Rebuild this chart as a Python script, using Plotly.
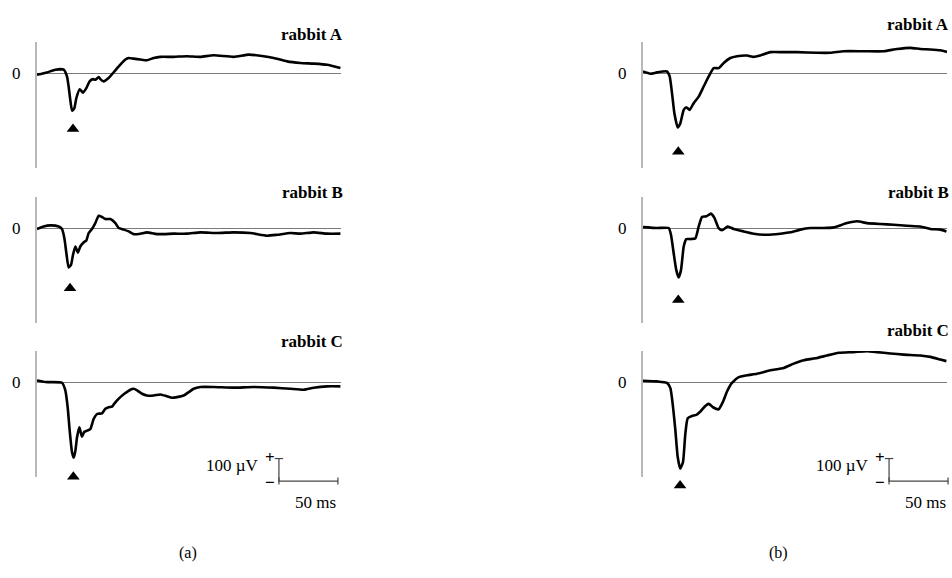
import plotly.graph_objects as go

# ---------------- data (time in ms, amplitude in µV) ----------------
a_A_t = [0, 8.5, 15.5, 22.6, 25.4, 26.8, 28.2, 29.7, 31.6, 33.3, 36.2, 39, 41.8, 44.6, 47.5, 49.4, 52.3, 53.7, 56.5, 60.7,
         66.4, 70.6, 74.9, 77.7, 81.9, 87.6, 93.2, 98.9, 104.5, 115.8, 127.1, 138.4, 149.7, 166.7, 179.4, 192.1, 200.6,
         211.9, 223.2, 234.5, 245.8, 257.1]
a_A_v = [-7, 3, 15, 15, -15, -60, -119, -167, -157, -112, -72, -87, -67, -37, -27, -30, -18, -27, -37, -22,
         12, 37, 60, 67, 64, 60, 57, 67, 72, 72, 75, 72, 79, 72, 82, 75, 67,
         52, 45, 42, 37, 22]

a_B_t = [0, 5.6, 11.3, 18.4, 21.2, 23.2, 24.9, 26.8, 28.8, 30.5, 32.5, 34.7, 36.7, 39.5, 41.8, 43.8, 46.6, 49.4, 52.3, 55.1,
         57.9, 62.2, 66.4, 69.2, 73.5, 77.7, 81.9, 87.6, 93.2, 101.7, 115.8, 127.1, 138.4, 152.6, 166.7, 180.8, 194.9,
         203.4, 214.7, 223.2, 234.5, 245.8, 257.1]
a_B_v = [-4, 7, 12, 7, -4, -45, -112, -175, -164, -119, -82, -109, -82, -64, -55, -22, -4, 22, 55, 49,
         40, 40, 22, 0, -7, -15, -27, -25, -19, -27, -25, -25, -19, -22, -19, -22, -34,
         -30, -22, -25, -19, -25, -25]

a_C_t = [0, 7.1, 21.2, 24, 26, 27.7, 29.7, 31.1, 32.5, 33.9, 35.9, 38.1, 40.1, 42.4, 45.2, 48, 50.9, 55.1, 57.9, 60.7,
         63.6, 66.4, 70.6, 74.9, 79.1, 81.9, 84.8, 89, 93.2, 98.9, 104.5, 110.2, 114.4, 118.7, 124.3, 128.6, 132.8,
         138.4, 149.7, 166.7, 183.6, 200.6, 214.7, 226, 234.5, 245.8, 257.1]
a_C_v = [7, 0, -3, -37, -112, -216, -313, -336, -306, -246, -201, -243, -221, -216, -209, -164, -142, -139, -119, -112,
         -109, -90, -67, -49, -34, -30, -37, -52, -60, -60, -55, -63, -70, -67, -60, -45, -30,
         -22, -22, -25, -22, -25, -30, -34, -25, -19, -19]

b_A_t = [0, 6.2, 11.9, 20.3, 22.6, 24.6, 26.6, 29.4, 31.6, 34.5, 36.7, 39.5, 42.9, 47.2, 51.4, 55.7, 59.9, 64.1, 68.4, 74,
         79.7, 88.1, 93.8, 99.4, 107.9, 119.2, 130.5, 147.5, 158.8, 170.1, 187, 204, 215.3, 226.6, 235, 243.5, 252,
         257.6]
b_A_v = [7, -3, 3, 7, -15, -90, -179, -242, -224, -164, -152, -164, -134, -105, -60, -15, 22, 22, 45, 67,
         75, 78, 72, 78, 93, 93, 93, 90, 90, 97, 97, 97, 107, 112, 107, 105, 101,
         94]

b_B_t = [0, 11.9, 21.8, 23.7, 26, 28.2, 30.2, 32.2, 34.5, 36.7, 40.1, 44.4, 47.2, 50, 53.7, 57.6, 60.5, 64.1, 67, 71.8,
         76.8, 85.3, 93.8, 105.1, 116.4, 124.9, 133.3, 141.8, 153.1, 161.6, 172.9, 181.4, 189.8, 201.1, 212.4, 223.7,
         235, 243.5, 252, 257.1]
b_B_v = [4, 0, 0, -30, -112, -187, -219, -187, -82, -49, -49, -45, 7, 49, 52, 64, 45, 0, -10, 7,
         -4, -15, -25, -30, -25, -19, -7, 0, 0, 3, 22, 30, 22, 18, 15, 10,
         7, -4, -7, -15]

b_C_t = [0, 11.9, 20.3, 23.2, 25.4, 27.4, 29.4, 31.6, 33.9, 35.9, 37.9, 41.5, 45.2, 48.6, 52.8, 55.7, 59.3, 64.1, 67.8, 71.2,
         75.4, 81.1, 88.1, 96.6, 107.9, 119.2, 127.7, 136.2, 147.5, 155.9, 165.8, 178.5, 189.8, 198.3, 209.6, 220.9,
         235, 243.5, 252, 257.1]
b_C_v = [6, 3, -4, -27, -109, -213, -333, -385, -355, -228, -161, -151, -146, -131, -106, -97, -112, -121, -87, -42,
         -4, 22, 30, 37, 52, 63, 82, 97, 107, 118, 130, 133, 137, 133, 127, 122,
         118, 112, 100, 93]

panel_titles = ["rabbit A", "rabbit B", "rabbit C", "rabbit A", "rabbit B", "rabbit C"]
# peak markers (triangles): time (ms) and level (µV)
marker_t = [30.5, 28.0, 30.8, 29.9, 29.9, 31.4]
marker_v = [-249, -267, -421, -350, -320, -460]
# scale bars: 50 ms x 100 µV, start time (ms) and bottom level (µV), for (a) and (b)
scale_t0 = [205, 208.5]
scale_v0 = [-440, -440]
scale_dt = 50
scale_dv = 100
part_labels = ["(a)", "(b)"]

traces_t = [a_A_t, a_B_t, a_C_t, b_A_t, b_B_t, b_C_t]
traces_v = [a_A_v, a_B_v, a_C_v, b_A_v, b_B_v, b_C_v]

# ---------------- layout helpers ----------------
W, H = 952, 578
FONT = "Liberation Serif"
col_px = [(37, 341), (643, 947)]
row_px = [(42, 168), (197, 323), (351, 477)]
title_shift = [8, 5, 10, 18, 5, 21]
X_RANGE = [0, 257.6]
Y_RANGE = [-422, 138]
PX_PER_MS = (col_px[0][1] - col_px[0][0]) / (X_RANGE[1] - X_RANGE[0])
PX_PER_UV = (row_px[0][1] - row_px[0][0]) / (Y_RANGE[1] - Y_RANGE[0])

fig = go.Figure()
layout = dict(
    width=W, height=H, autosize=False,
    margin=dict(l=0, r=0, t=0, b=0),
    paper_bgcolor="white", plot_bgcolor="rgba(0,0,0,0)",
    showlegend=False,
    font=dict(family=FONT, size=16, color="black"),
)
annotations = []

for i in range(6):
    n = i + 1
    c, r = divmod(i, 3)
    sx = "" if n == 1 else str(n)
    x0, x1 = col_px[c]
    y0, y1 = row_px[r]
    layout["xaxis" + sx] = dict(
        domain=[x0 / W, x1 / W], range=X_RANGE, anchor="y" + sx,
        visible=False, showgrid=False, zeroline=False, fixedrange=True,
    )
    layout["yaxis" + sx] = dict(
        domain=[1 - y1 / H, 1 - y0 / H], range=Y_RANGE, anchor="x" + sx,
        showgrid=False, zeroline=True, zerolinecolor="#7a7a7a", zerolinewidth=1,
        showline=True, linecolor="#b8b8b8", linewidth=2,
        tickmode="array", tickvals=[0], ticktext=["0"], ticks="",
        ticklabelstandoff=11,
        tickfont=dict(family=FONT, size=17, color="black"),
        fixedrange=True,
    )
    xr, yr = "x" + sx, "y" + sx
    fig.add_trace(go.Scatter(
        x=traces_t[i], y=traces_v[i], mode="lines",
        line=dict(color="black", width=2.6, shape="spline", smoothing=0.5),
        xaxis=xr, yaxis=yr, hoverinfo="skip",
    ))
    annotations.append(dict(
        text=panel_titles[i], xref=xr + " domain", yref=yr + " domain",
        x=1, y=1, xanchor="right", yanchor="middle", xshift=4, yshift=title_shift[i],
        showarrow=False, font=dict(family=FONT, size=17, color="black", weight="bold"),
    ))
    if r < 2:
        fig.add_trace(go.Scatter(
            x=[marker_t[i]], y=[marker_v[i]], mode="markers",
            marker=dict(symbol="triangle-up", size=11, color="black"),
            xaxis=xr, yaxis=yr, cliponaxis=False, hoverinfo="skip",
        ))

# overlay axes below the bottom panels (same scale) for triangles & scale bars
ov_bottom_px = 572
for c in range(2):
    n = 7 + c
    sx = str(n)
    x0 = col_px[c][0]
    x1 = min(x0 + 312, W)
    y0 = row_px[2][0]
    layout["xaxis" + sx] = dict(
        domain=[x0 / W, x1 / W], range=[0, (x1 - x0) / PX_PER_MS], anchor="y" + sx,
        visible=False, fixedrange=True,
    )
    layout["yaxis" + sx] = dict(
        domain=[1 - ov_bottom_px / H, 1 - y0 / H],
        range=[Y_RANGE[1] - (ov_bottom_px - y0) / PX_PER_UV, Y_RANGE[1]],
        anchor="x" + sx, visible=False, fixedrange=True,
    )
    xr, yr = "x" + sx, "y" + sx
    i = 3 * c + 2
    fig.add_trace(go.Scatter(
        x=[marker_t[i]], y=[marker_v[i]], mode="markers",
        marker=dict(symbol="triangle-up", size=11, color="black"),
        xaxis=xr, yaxis=yr, hoverinfo="skip",
    ))
    t0, v0 = scale_t0[c], scale_v0[c]
    bar_col = "#444444"
    fig.add_trace(go.Scatter(
        x=[t0, t0, t0 + scale_dt], y=[v0 + scale_dv, v0, v0], mode="lines",
        line=dict(color=bar_col, width=1.2), xaxis=xr, yaxis=yr, hoverinfo="skip",
    ))
    fig.add_trace(go.Scatter(
        x=[t0], y=[v0 + scale_dv], mode="markers",
        marker=dict(symbol="line-ew", size=6, line=dict(color=bar_col, width=1.2)),
        xaxis=xr, yaxis=yr, hoverinfo="skip",
    ))
    fig.add_trace(go.Scatter(
        x=[t0, t0 + scale_dt], y=[v0, v0], mode="markers",
        marker=dict(symbol="line-ns", size=5, line=dict(color=bar_col, width=1.2)),
        xaxis=xr, yaxis=yr, hoverinfo="skip",
    ))
    annotations += [
        dict(text="100 µV", xref=xr, yref=yr, x=t0, y=v0 + scale_dv * 0.7,
             xanchor="right", yanchor="middle", xshift=-18, showarrow=False,
             font=dict(family=FONT, size=17)),
        dict(text="+", xref=xr, yref=yr, x=t0, y=v0 + scale_dv, xanchor="center",
             yanchor="middle", xshift=-9, yshift=1, showarrow=False,
             font=dict(family=FONT, size=17, weight="bold")),
        dict(text="−", xref=xr, yref=yr, x=t0, y=v0, xanchor="center",
             yanchor="middle", xshift=-9, yshift=-1, showarrow=False,
             font=dict(family=FONT, size=17, weight="bold")),
        dict(text="50 ms", xref=xr, yref=yr, x=t0 + scale_dt, y=v0,
             xanchor="right", yanchor="middle", yshift=-21, showarrow=False,
             font=dict(family=FONT, size=17)),
    ]

for k, lab in enumerate(part_labels):
    cx = (188 if k == 0 else 778) / W
    annotations.append(dict(
        text=lab, xref="paper", yref="paper", x=cx, y=1 - 553 / H,
        xanchor="center", yanchor="middle", showarrow=False,
        font=dict(family=FONT, size=16, color="black"),
    ))

layout["annotations"] = annotations
fig.update_layout(**layout)
fig.write_html(
    "out.html",
    config={"displayModeBar": False, "staticPlot": True},
    post_script="document.body.style.margin='0px';document.body.style.overflow='hidden';",
)
